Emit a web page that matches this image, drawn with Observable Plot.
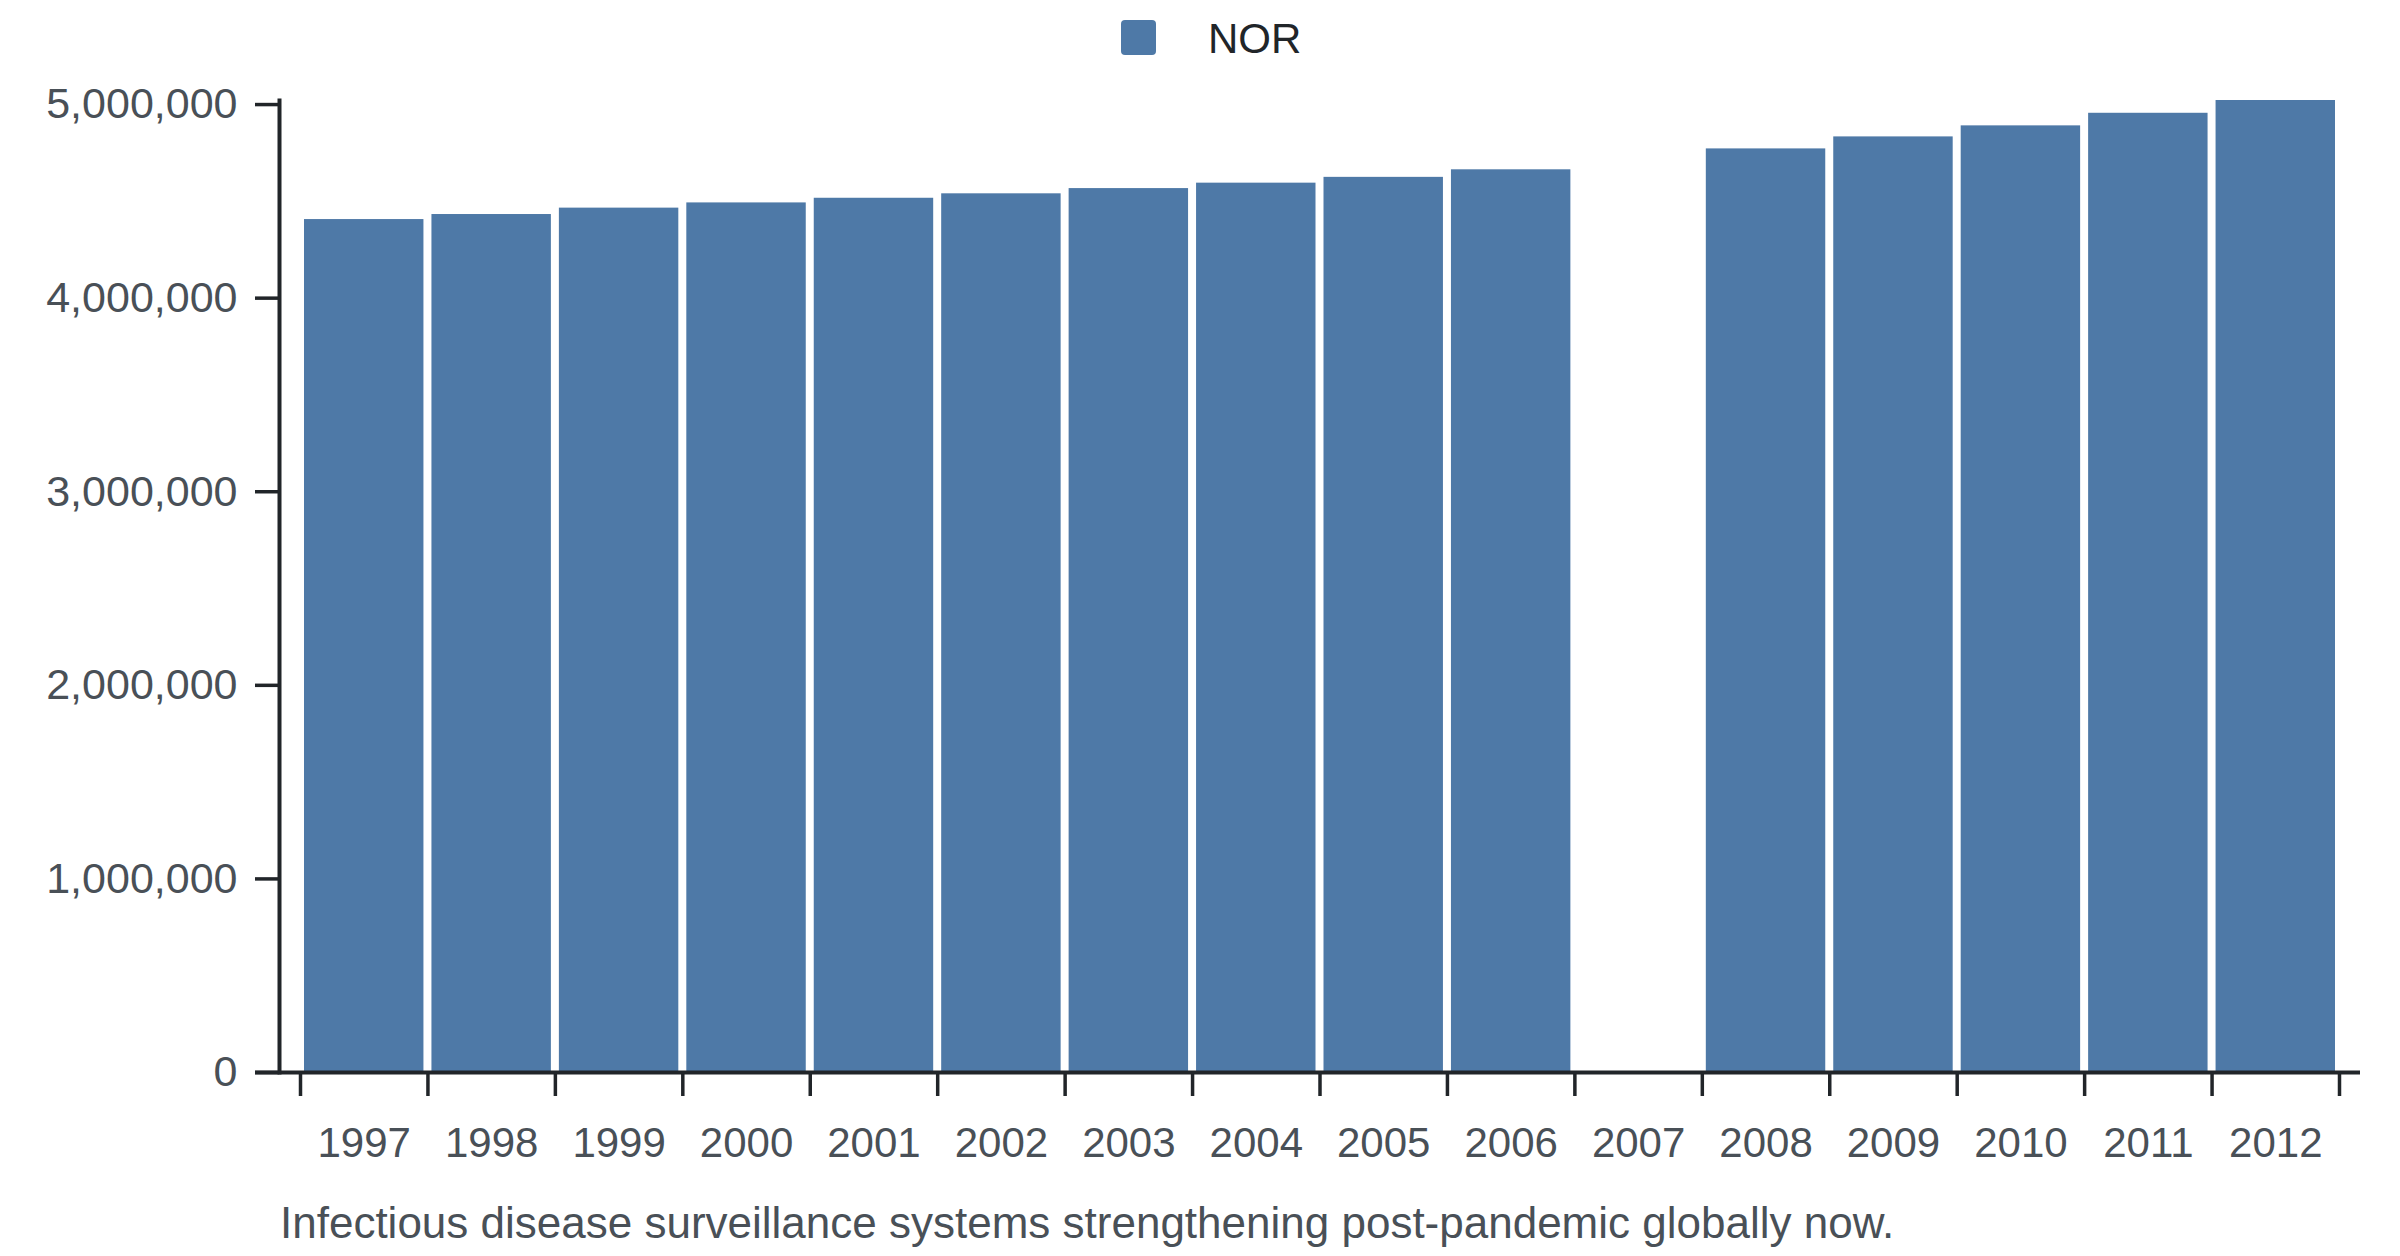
<!DOCTYPE html>
<html>
<head>
<meta charset="utf-8">
<script src="https://cdn.jsdelivr.net/npm/d3@7"></script>
<script src="https://cdn.jsdelivr.net/npm/@observablehq/plot@0.6"></script>
<style>
  html, body { margin: 0; padding: 0; background: #fff; }
  body { width: 2400px; height: 1256px; overflow: hidden; font-family: "Liberation Sans", Arial, sans-serif; }
  #legend { position: relative; height: 75px; }
  #legend .sw { position: absolute; left: 1121px; top: 20px; width: 35px; height: 35px; border-radius: 4px; background: #4e79a7; }
  #legend .lb { position: absolute; left: 1208px; top: 15px; font-size: 42px; line-height: normal; color: #212529; }
  #chart svg { display: block; }
  #caption { margin-top: 18px; padding-left: 280px; font-size: 44px; line-height: normal; color: #495057; white-space: nowrap; }
</style>
</head>
<body>
<div id="legend"><div class="sw"></div><div class="lb"></div></div>
<div id="chart"></div>
<div id="caption"></div>
<script>
const seriesName = "NOR";
const years = [1997, 1998, 1999, 2000, 2001, 2002, 2003, 2004, 2005, 2006, 2007, 2008, 2009, 2010, 2011, 2012];
const values = [4406000, 4432000, 4465000, 4492000, 4516000, 4539000, 4566000, 4594000, 4624000, 4663000, null, 4771000, 4833000, 4890000, 4955000, 5021000];
const yTicks = [0, 1000000, 2000000, 3000000, 4000000, 5000000];
const captionText = "Infectious disease surveillance systems strengthening post-pandemic globally now.";

const data = years.map((y, i) => ({year: y, value: values[i]}));
const edges = years.map(y => y - 0.5).concat([years[years.length - 1] + 0.5]);

document.querySelector("#legend .lb").textContent = seriesName;
document.getElementById("caption").textContent = captionText;

const axisColor = "#212529";
const textColor = "#495057";

const chart = Plot.plot({
  width: 2400,
  height: 1105,
  marginTop: 25,
  marginBottom: 108,
  marginLeft: 279,
  marginRight: 40,
  style: {fontFamily: "'Liberation Sans', Arial, sans-serif", background: "#fff"},
  x: {type: "linear", domain: [edges[0], edges[edges.length - 1]], insetLeft: 21, insetRight: 21},
  y: {domain: [0, d3.max(values)]},
  marks: [
    Plot.rectY(data.filter(d => d.value != null), {
      x1: d => d.year - 0.5,
      x2: d => d.year + 0.5,
      y: "value",
      fill: "#4e79a7",
      insetLeft: 4,
      insetRight: 4
    }),
    Plot.axisY({
      ticks: yTicks,
      tickFormat: d3.format(","),
      tickSize: 24,
      tickPadding: 18,
      fontSize: 43,
      fill: textColor,
      stroke: axisColor,
      strokeWidth: 3.5,
      label: null
    }),
    Plot.axisX({
      ticks: edges,
      tickFormat: () => "",
      tickSize: 24,
      stroke: axisColor,
      strokeWidth: 3.5,
      label: null
    }),
    Plot.axisX({
      ticks: years,
      tickFormat: d => String(d),
      tickSize: 0,
      tickPadding: 55,
      fontSize: 42,
      fill: textColor,
      label: null
    }),
    Plot.frame({anchor: "left", stroke: axisColor, strokeWidth: 4}),
    Plot.ruleY([0], {stroke: axisColor, strokeWidth: 4, insetLeft: -24})
  ]
});
document.getElementById("chart").appendChild(chart);
</script>
</body>
</html>
